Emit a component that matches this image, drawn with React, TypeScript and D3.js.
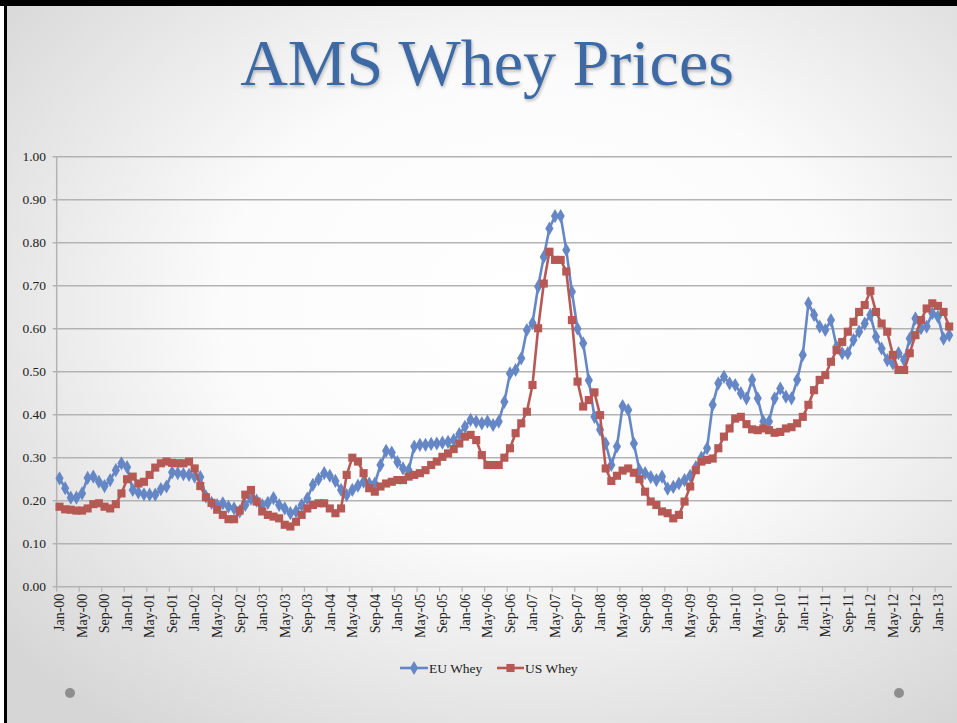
import React from 'react';
import * as d3 from 'd3';

// monthly categories Jan-00 .. Mar-13
const MONTHS = ['Jan', 'Feb', 'Mar', 'Apr', 'May', 'Jun', 'Jul', 'Aug', 'Sep', 'Oct', 'Nov', 'Dec'];
const YEARS = ['00', '01', '02', '03', '04', '05', '06', '07', '08', '09', '10', '11', '12', '13'];
const categories: string[] = [];
YEARS.forEach(yy => MONTHS.forEach(m => categories.push(m + '-' + yy)));
categories.splice(159); // data ends Mar-13

const euWhey = [
  0.252, 0.229, 0.207, 0.207, 0.217, 0.253, 0.256, 0.244, 0.234, 0.248, 0.271, 0.287,
  0.278, 0.225, 0.219, 0.215, 0.214, 0.214, 0.227, 0.233, 0.266, 0.264, 0.262, 0.260,
  0.256, 0.255, 0.210, 0.195, 0.190, 0.194, 0.186, 0.182, 0.175, 0.190, 0.205, 0.200,
  0.190, 0.195, 0.206, 0.190, 0.182, 0.171, 0.175, 0.190, 0.205, 0.237, 0.250, 0.264,
  0.258, 0.246, 0.225, 0.213, 0.225, 0.235, 0.244, 0.240, 0.240, 0.283, 0.316, 0.312,
  0.290, 0.275, 0.271, 0.326, 0.330, 0.330, 0.332, 0.333, 0.335, 0.337, 0.341, 0.355,
  0.372, 0.388, 0.384, 0.380, 0.384, 0.376, 0.384, 0.430, 0.496, 0.504, 0.531, 0.597,
  0.613, 0.698, 0.767, 0.833, 0.862, 0.862, 0.783, 0.686, 0.600, 0.566, 0.480, 0.395,
  0.365, 0.333, 0.283, 0.326, 0.420, 0.411, 0.333, 0.271, 0.264, 0.255, 0.248, 0.256,
  0.228, 0.232, 0.240, 0.248, 0.258, 0.278, 0.300, 0.322, 0.423, 0.473, 0.488, 0.473,
  0.469, 0.450, 0.438, 0.481, 0.438, 0.384, 0.384, 0.438, 0.461, 0.442, 0.438, 0.481,
  0.539, 0.659, 0.632, 0.605, 0.597, 0.620, 0.558, 0.543, 0.543, 0.574, 0.593, 0.612,
  0.632, 0.581, 0.554, 0.527, 0.519, 0.543, 0.527, 0.577, 0.624, 0.601, 0.605, 0.636,
  0.628, 0.577, 0.585,
];

const usWhey = [
  0.186, 0.180, 0.179, 0.177, 0.177, 0.182, 0.192, 0.194, 0.186, 0.182, 0.192, 0.217,
  0.250, 0.256, 0.240, 0.244, 0.260, 0.277, 0.287, 0.291, 0.288, 0.287, 0.287, 0.291,
  0.275, 0.234, 0.208, 0.195, 0.179, 0.167, 0.157, 0.157, 0.177, 0.214, 0.225, 0.198,
  0.175, 0.167, 0.163, 0.159, 0.144, 0.140, 0.151, 0.167, 0.182, 0.190, 0.194, 0.194,
  0.182, 0.171, 0.182, 0.260, 0.300, 0.291, 0.264, 0.229, 0.221, 0.233, 0.240, 0.244,
  0.248, 0.248, 0.256, 0.260, 0.264, 0.271, 0.283, 0.291, 0.302, 0.310, 0.320, 0.333,
  0.349, 0.353, 0.341, 0.306, 0.283, 0.283, 0.283, 0.300, 0.322, 0.357, 0.380, 0.407,
  0.469, 0.601, 0.705, 0.779, 0.760, 0.760, 0.733, 0.620, 0.477, 0.419, 0.434, 0.452,
  0.399, 0.275, 0.246, 0.258, 0.270, 0.275, 0.265, 0.250, 0.221, 0.198, 0.190, 0.175,
  0.171, 0.159, 0.167, 0.198, 0.233, 0.271, 0.291, 0.295, 0.298, 0.322, 0.349, 0.368,
  0.391, 0.395, 0.378, 0.366, 0.364, 0.368, 0.364, 0.358, 0.360, 0.368, 0.371, 0.380,
  0.395, 0.423, 0.457, 0.481, 0.492, 0.523, 0.550, 0.569, 0.593, 0.616, 0.639, 0.655,
  0.688, 0.639, 0.612, 0.593, 0.539, 0.504, 0.504, 0.543, 0.585, 0.620, 0.647, 0.659,
  0.653, 0.639, 0.605,
];

const yTicks = [0, 0.1, 0.2, 0.3, 0.4, 0.5, 0.6, 0.7, 0.8, 0.9, 1.0];

const W = 957;
const H = 723;
const plot = { left: 56.7, right: 952, top: 156.7, bottom: 586.7 };
const EU_COLOR = '#6687c6';
const US_COLOR = '#b65955';
const FONT = '"Liberation Serif", "Times New Roman", serif';

export default function App() {
  const x = d3.scaleBand<string>().domain(categories).range([plot.left, plot.right]).paddingInner(0).paddingOuter(0);
  const y = d3.scaleLinear().domain([0, 1]).range([plot.bottom, plot.top]);
  const cx = (c: string) => (x(c) as number) + x.bandwidth() / 2;

  const line = d3.line<number>()
    .x((_, i) => cx(categories[i]))
    .y(d => y(d));

  const diamond = d3.symbol().type(d3.symbolDiamond).size(58)() as string;
  const square = d3.symbol().type(d3.symbolSquare).size(66)() as string;

  const labelCats = categories.filter((_, i) => i % 4 === 0);
  const fmt = d3.format('.2f');

  return (
    <svg width={W} height={H} style={{ position: 'absolute', left: 0, top: 0, display: 'block' }}>
      <defs>
        <radialGradient id="slideBg" cx="55%" cy="42%" r="72%">
          <stop offset="0%" stopColor="#ffffff" />
          <stop offset="45%" stopColor="#fbfbfb" />
          <stop offset="100%" stopColor="#d6d6d6" />
        </radialGradient>
        <filter id="titleShadow" x="-5%" y="-20%" width="110%" height="140%">
          <feDropShadow dx="1" dy="2" stdDeviation="1.5" floodColor="#000" floodOpacity="0.25" />
        </filter>
      </defs>
      <rect x={0} y={0} width={W} height={H} fill="#ffffff" />
      <rect x={5} y={5} width={W} height={H} fill="url(#slideBg)" />
      {/* black frame on top and left */}
      <rect x={0} y={0} width={W} height={6} fill="#000" />
      <rect x={4} y={0} width={3} height={H} fill="#000" />

      <text x={487} y={85} textAnchor="middle" fontFamily={FONT} fontSize={66} fill="#3c6aa5" filter="url(#titleShadow)">
        AMS Whey Prices
      </text>

      {/* gridlines + y labels */}
      {yTicks.map(t => (
        <g key={t}>
          <line x1={plot.left - 4} x2={plot.right} y1={y(t)} y2={y(t)} stroke="#b3b3b3" strokeWidth={1.5} />
          <text x={46} y={y(t)} dy="0.35em" textAnchor="end" fontFamily={FONT} fontSize={13.5} fill="#222">
            {fmt(t)}
          </text>
        </g>
      ))}
      <line x1={plot.left} x2={plot.left} y1={plot.top} y2={plot.bottom} stroke="#b3b3b3" strokeWidth={1.5} />

      {/* x axis ticks + labels */}
      {labelCats.map(c => (
        <g key={c}>
          <line x1={x(c)} x2={x(c)} y1={plot.bottom} y2={plot.bottom + 5} stroke="#b3b3b3" strokeWidth={1.2} />
          <text
            transform={`translate(${cx(c) + 4.8},${plot.bottom + 7}) rotate(-90)`}
            textAnchor="end"
            fontFamily={FONT}
            fontSize={14}
            fill="#222"
          >
            {c}
          </text>
        </g>
      ))}

      {/* series */}
      <path d={line(euWhey) as string} fill="none" stroke={EU_COLOR} strokeWidth={2.6} strokeLinejoin="round" />
      {euWhey.map((v, i) => (
        <path key={'eu' + i} d={diamond} transform={`translate(${cx(categories[i])},${y(v)})`} fill={EU_COLOR} />
      ))}
      <path d={line(usWhey) as string} fill="none" stroke={US_COLOR} strokeWidth={2.6} strokeLinejoin="round" />
      {usWhey.map((v, i) => (
        <path key={'us' + i} d={square} transform={`translate(${cx(categories[i])},${y(v)})`} fill={US_COLOR} />
      ))}

      {/* legend */}
      <g fontFamily={FONT} fontSize={13.5} fill="#222">
        <line x1={400} x2={428} y1={668} y2={668} stroke={EU_COLOR} strokeWidth={2.6} />
        <path d={diamond} transform="translate(414,668)" fill={EU_COLOR} />
        <text x={429} y={668} dy="0.35em">EU Whey</text>
        <line x1={497} x2={524} y1={668} y2={668} stroke={US_COLOR} strokeWidth={2.6} />
        <path d={square} transform="translate(510.5,668)" fill={US_COLOR} />
        <text x={525} y={668} dy="0.35em">US Whey</text>
      </g>

      <circle cx={70} cy={693} r={5} fill="#8e8e8e" />
      <circle cx={899} cy={693} r={5} fill="#8e8e8e" />
    </svg>
  );
}
